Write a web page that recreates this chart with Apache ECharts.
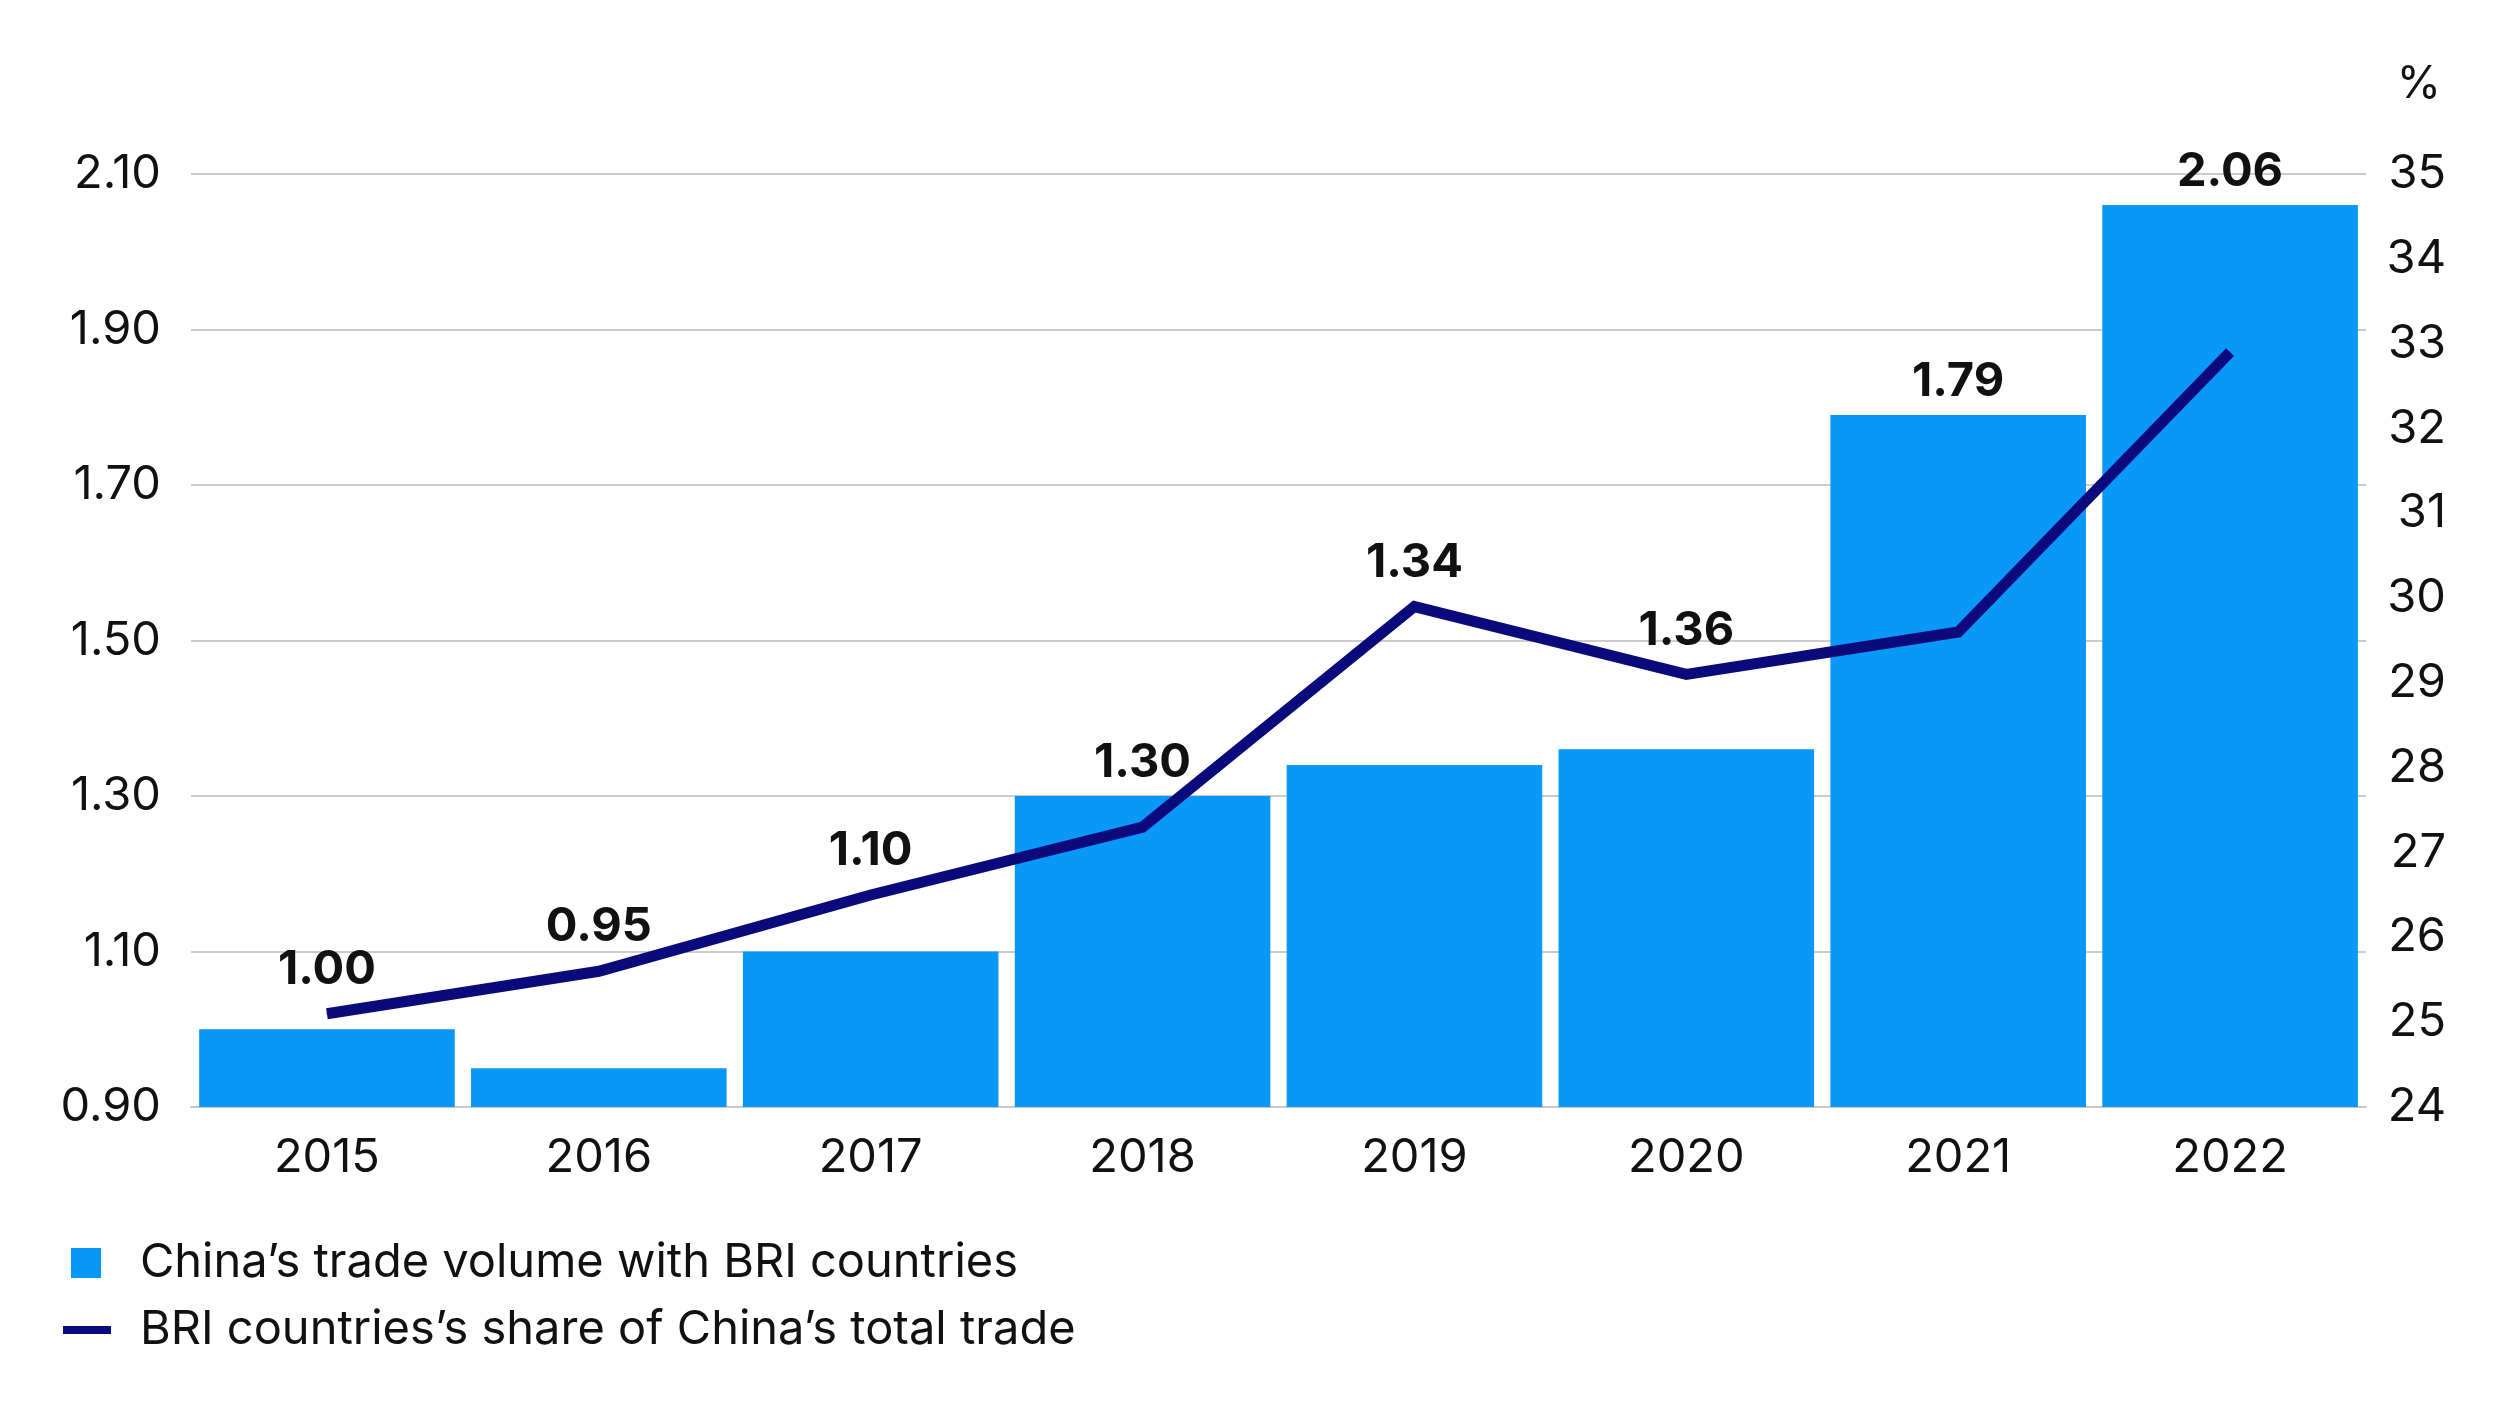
<!DOCTYPE html>
<html>
<head>
<meta charset="utf-8">
<script src="https://cdn.jsdelivr.net/npm/echarts@6/dist/echarts.min.js"></script>
<style>
html,body{margin:0;padding:0;background:#fff;}
#chart{width:2496px;height:1404px;}
</style>
</head>
<body>
<div id="chart"></div>
<script>
const years = ['2015','2016','2017','2018','2019','2020','2021','2022'];
const tradeVolume = [1.00, 0.95, 1.10, 1.30, 1.34, 1.36, 1.79, 2.06];
const briShare = [25.1, 25.6, 26.5, 27.3, 29.9, 29.1, 29.6, 32.9];
const seriesNames = ['China’s trade volume with BRI countries', 'BRI countries’s share of China’s total trade'];
const leftAxis = {min: 0.9, max: 2.1, interval: 0.2};
const rightAxis = {min: 24, max: 35, interval: 1};

const FONT = 'Inter';
const BAR_COLOR = '#0997F8';
const LINE_COLOR = '#0a0a7c';

// decide per year whether the line sits above the bar (label goes above the line)
const lineAbove = years.map((y, i) => {
  const b = (tradeVolume[i] - leftAxis.min) / (leftAxis.max - leftAxis.min);
  const l = (briShare[i] - rightAxis.min) / (rightAxis.max - rightAxis.min);
  return l > b;
});

const labelStyle = {
  fontFamily: FONT, fontSize: 47, fontWeight: 'bold', color: '#111'
};

const barData = tradeVolume.map((v, i) => ({
  value: v,
  label: {show: !lineAbove[i]}
}));
const lineData = briShare.map((v, i) => ({
  value: v,
  label: {show: lineAbove[i]}
}));

const chart = echarts.init(document.getElementById('chart'));
chart.setOption({
  animation: false,
  backgroundColor: '#fff',
  title: {
    text: '%', right: 50, top: 57,
    textStyle: {fontFamily: FONT, fontSize: 45, fontWeight: 'normal', color: '#111'}
  },
  grid: {left: 191, right: 130, top: 174, bottom: 297},
  legend: [
    {
      data: [seriesNames[0]], orient: 'vertical', left: 66, top: 1232,
      icon: 'rect', itemWidth: 30, itemHeight: 30,
      textStyle: {fontFamily: FONT, fontSize: 47, color: '#111', lineHeight: 52, padding: [0,0,0,34]}
    },
    {
      data: [seriesNames[1]], orient: 'vertical', left: 58, top: 1299,
      icon: 'rect', itemWidth: 48, itemHeight: 8,
      textStyle: {fontFamily: FONT, fontSize: 47, color: '#111', lineHeight: 52, padding: [0,0,0,24]}
    }
  ],
  xAxis: {
    type: 'category', data: years,
    axisLine: {show: true, lineStyle: {color: '#c8c8c8', width: 2}},
    axisTick: {show: false},
    axisLabel: {fontFamily: FONT, fontSize: 47, color: '#111', margin: 27}
  },
  yAxis: [
    {
      type: 'value', min: leftAxis.min, max: leftAxis.max, interval: leftAxis.interval,
      axisLine: {show: false}, axisTick: {show: false},
      splitLine: {show: true, lineStyle: {color: '#cccccc', width: 2}},
      axisLabel: {fontFamily: FONT, fontSize: 47, color: '#111', margin: 30,
        formatter: v => v.toFixed(2)}
    },
    {
      type: 'value', min: rightAxis.min, max: rightAxis.max, interval: rightAxis.interval,
      position: 'right',
      axisLine: {show: false}, axisTick: {show: false}, splitLine: {show: false},
      axisLabel: {fontFamily: FONT, fontSize: 47, color: '#111', margin: 80, align: 'right'}
    }
  ],
  series: [
    {
      name: seriesNames[0], type: 'bar', yAxisIndex: 0,
      data: barData, barCategoryGap: '6%',
      itemStyle: {color: BAR_COLOR},
      label: Object.assign({position: 'top', distance: 10,
        formatter: p => tradeVolume[p.dataIndex].toFixed(2)}, labelStyle)
    },
    {
      name: seriesNames[1], type: 'line', yAxisIndex: 1,
      data: lineData, symbol: 'circle', symbolSize: 1, showSymbol: true,
      itemStyle: {color: LINE_COLOR},
      lineStyle: {color: LINE_COLOR, width: 11, join: 'miter', cap: 'butt'},
      label: Object.assign({position: 'top', distance: 20,
        formatter: p => tradeVolume[p.dataIndex].toFixed(2)}, labelStyle),
      z: 3
    }
  ]
});
</script>
</body>
</html>
